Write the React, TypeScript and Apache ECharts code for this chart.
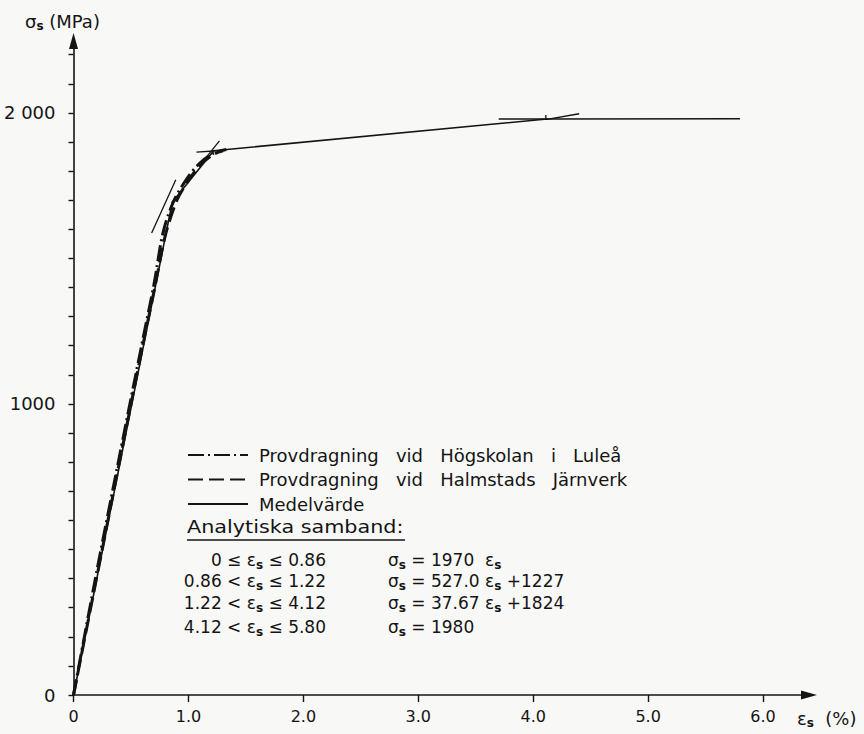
import React, { useEffect, useRef } from 'react';
import * as echarts from 'echarts';

// ---- data (strain in %, stress in MPa) ----
const meanStrain = [0, 0.86, 1.22, 4.12, 5.8];
const meanStress = [0, 1694, 1870, 1979, 1980];

const luleaStrain = [0, 0.2, 0.4, 0.6, 0.7, 0.78, 0.87, 0.98, 1.1, 1.22, 1.33];
const luleaStress = [0, 420, 820, 1215, 1410, 1590, 1695, 1770, 1828, 1862, 1874];

const halmStrain = [0, 0.2, 0.4, 0.6, 0.7, 0.8, 0.9, 1.0, 1.1, 1.22, 1.3];
const halmStress = [0, 400, 800, 1195, 1385, 1580, 1700, 1768, 1820, 1858, 1870];

// short construction marks at the break points
const markA = [[0.68, 1587], [0.89, 1770]];
const markB1 = [[1.07, 1865], [1.25, 1870]];
const markB2 = [[1.16, 1850], [1.27, 1904]];
const markC1 = [[3.7, 1979], [4.13, 1979]];
const markC2 = [[4.12, 1978], [4.4, 1997]];
const markC3 = [[4.11, 1976], [4.11, 1993]];

const xTickValues = [0, 1, 2, 3, 4, 5, 6];
const yTickValues = [0, 100, 200, 300, 400, 500, 600, 700, 800, 900, 1000, 1100, 1200, 1300, 1400, 1500, 1600, 1700, 1800, 1900, 2000, 2100, 2200];
const yLabelValues = [0, 1000, 2000];

const seriesNames = [
  'Provdragning vid Högskolan i Luleå',
  'Provdragning vid Halmstads Järnverk',
  'Medelvärde',
];

const eqRanges = ['0 ≤ ε{s|s} ≤ 0.86', '0.86 < ε{s|s} ≤ 1.22', '1.22 < ε{s|s} ≤ 4.12', '4.12 < ε{s|s} ≤ 5.80'];
const eqFormulas = ['σ{s|s} = 1970  ε{s|s}', 'σ{s|s} = 527.0 ε{s|s} +1227', 'σ{s|s} = 37.67 ε{s|s} +1824', 'σ{s|s} = 1980'];

const FONT = 'DejaVu Sans';
const INK = '#141414';

function zip(a: number[], b: number[]) {
  return a.map((v, i) => [v, b[i]]);
}

const subRich = {
  s: { fontSize: 12, fontWeight: 'bold', fontFamily: FONT, fill: INK, padding: [10, 0, 0, 0] },
};

function markSeries(d: number[][]) {
  return {
    type: 'line',
    data: d,
    symbol: 'none',
    silent: true,
    lineStyle: { color: INK, width: 1.3 },
  };
}

export default function App() {
  const ref = useRef<HTMLDivElement>(null);
  useEffect(() => {
    const chart = echarts.init(ref.current!, null, { renderer: 'svg' });
    const eqY = [560, 581, 603, 627];
    const graphics: any[] = [
      {
        type: 'text',
        style: { text: 'σ{s|s} (MPa)', x: 25, y: 21, fontSize: 18, fontFamily: FONT, fill: INK, verticalAlign: 'middle', align: 'left', rich: subRich },
      },
      {
        type: 'text',
        style: { text: 'ε{s|s}  (%)', x: 797, y: 718, fontSize: 18, fontFamily: FONT, fill: INK, verticalAlign: 'middle', align: 'left', rich: subRich },
      },
      {
        type: 'text',
        x: 187,
        y: 527,
        scaleX: 1.22,
        style: { text: 'Analytiska samband:', x: 0, y: 0, fontSize: 17, fontFamily: FONT, fill: INK, verticalAlign: 'middle', align: 'left' },
      },
      {
        type: 'line',
        shape: { x1: 187, y1: 540, x2: 405, y2: 540 },
        style: { stroke: INK, lineWidth: 1.3 },
      },
    ];
    eqRanges.forEach((t, i) => {
      graphics.push({
        type: 'text',
        style: { text: t, x: 326, y: eqY[i], fontSize: 17, fontFamily: FONT, fill: INK, verticalAlign: 'middle', align: 'right', rich: subRich },
      });
      graphics.push({
        type: 'text',
        style: { text: eqFormulas[i], x: 388, y: eqY[i], fontSize: 17, fontFamily: FONT, fill: INK, verticalAlign: 'middle', align: 'left', rich: subRich },
      });
    });

    const option: any = {
      animation: false,
      backgroundColor: '#f8f8f7',
      grid: { left: 73.5, right: 55, top: 41, bottom: 39, containLabel: false },
      xAxis: {
        type: 'value',
        min: 0,
        max: 6.4,
        axisLine: { show: true, symbol: ['none', 'triangle'], symbolSize: [9, 16], lineStyle: { color: INK, width: 1.6 } },
        axisTick: { show: true, customValues: xTickValues, length: 7, lineStyle: { color: INK, width: 1.4 } },
        axisLabel: {
          customValues: xTickValues,
          margin: 13,
          fontSize: 16,
          fontFamily: FONT,
          color: INK,
          formatter: (v: number) => (v === 0 ? '0' : v.toFixed(1)),
        },
        splitLine: { show: false },
      },
      yAxis: {
        type: 'value',
        min: 0,
        max: 2247,
        axisLine: { show: true, symbol: ['none', 'triangle'], symbolSize: [9, 16], lineStyle: { color: INK, width: 1.6 } },
        axisTick: { show: true, customValues: yTickValues, length: 5, lineStyle: { color: INK, width: 1.4 } },
        axisLabel: {
          customValues: yLabelValues,
          margin: 18,
          fontSize: 18,
          fontFamily: FONT,
          color: INK,
          formatter: (v: number) => (v === 2000 ? '2 000' : String(v)),
        },
        splitLine: { show: false },
      },
      legend: {
        orient: 'vertical',
        left: 187,
        top: 445,
        padding: 0,
        itemWidth: 60,
        itemHeight: 14,
        itemGap: 4.5,
        selectedMode: false,
        data: seriesNames,
        itemStyle: { color: 'transparent', borderColor: 'transparent', borderWidth: 0, opacity: 0 },
        lineStyle: { width: 2 },
        formatter: (name: string) => name.replace(/ /g, '   '),
        textStyle: { fontFamily: FONT, fontSize: 18, color: INK, lineHeight: 20, padding: [0, 0, 0, 6] },
      },
      series: [
        {
          name: seriesNames[0],
          type: 'line',
          data: zip(luleaStrain, luleaStress),
          symbol: 'none',
          smooth: 0.3,
          itemStyle: { color: INK },
          lineStyle: { color: INK, width: 3, type: [16, 4, 2, 4] },
        },
        {
          name: seriesNames[1],
          type: 'line',
          data: zip(halmStrain, halmStress),
          symbol: 'none',
          smooth: 0.3,
          itemStyle: { color: INK },
          lineStyle: { color: INK, width: 3, type: [15, 6] },
        },
        {
          name: seriesNames[2],
          type: 'line',
          data: zip(meanStrain, meanStress),
          symbol: 'none',
          itemStyle: { color: INK },
          lineStyle: { color: INK, width: 1.6 },
        },
        markSeries(markA),
        markSeries(markB1),
        markSeries(markB2),
        markSeries(markC1),
        markSeries(markC2),
        markSeries(markC3),
      ],
      graphic: graphics,
    };
    chart.setOption(option);
    return () => chart.dispose();
  }, []);
  return <div ref={ref} style={{ position: 'fixed', left: 0, top: 0, width: 864, height: 734 }} />;
}
